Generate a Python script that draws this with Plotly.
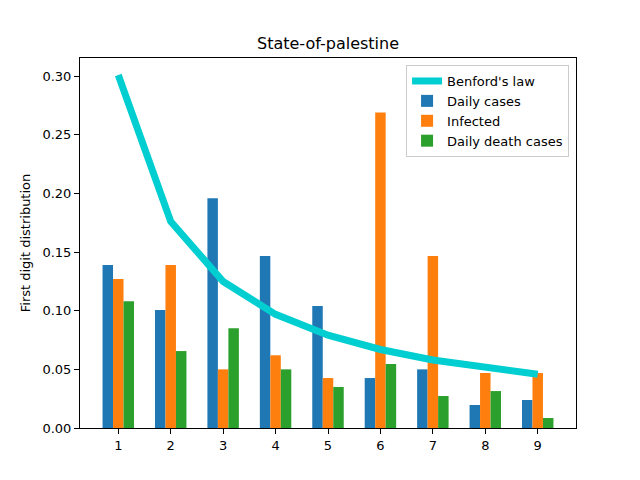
import numpy as np
import plotly.graph_objects as go

digits = [1, 2, 3, 4, 5, 6, 7, 8, 9]
benford = [float(np.log10(1 + 1 / d)) for d in digits]
daily_cases = [0.139, 0.1006, 0.196, 0.1466, 0.104, 0.0426, 0.050, 0.0196, 0.0239]
infected = [0.127, 0.139, 0.050, 0.062, 0.0426, 0.269, 0.1466, 0.0469, 0.0469]
daily_deaths = [0.108, 0.0656, 0.085, 0.050, 0.035, 0.0546, 0.0273, 0.0315, 0.0085]

font = "DejaVu Sans"
w = 0.2

fig = go.Figure()
fig.add_trace(go.Scatter(x=digits, y=benford, mode="lines", name="Benford's law",
                         line=dict(color="#00CED1", width=7)))
for vals, off, name, col in [(daily_cases, -w, "Daily cases", "#1f77b4"),
                             (infected, 0, "Infected", "#ff7f0e"),
                             (daily_deaths, w, "Daily death cases", "#2ca02c")]:
    fig.add_trace(go.Bar(x=[d + off for d in digits], y=vals, width=w, name=name,
                         marker=dict(color=col, line=dict(width=0))))

axis = dict(showline=True, linecolor="black", linewidth=1, mirror=True,
            ticks="outside", ticklen=5, tickcolor="black", showgrid=False,
            zeroline=False, tickfont=dict(family=font, size=13, color="black"))

# page body adds ~8px offset, so margins are shifted to compensate
fig.update_layout(
    width=640, height=480,
    margin=dict(l=72, r=72, t=50, b=60),
    plot_bgcolor="white", paper_bgcolor="white",
    barmode="overlay",
    title=dict(text="State-of-palestine", x=0.5, xanchor="center",
               y=1 - 35 / 480, yanchor="middle",
               font=dict(family=font, size=16, color="black")),
    xaxis=dict(axis, range=[0.27, 9.73], tickvals=digits),
    yaxis=dict(axis, range=[0, 0.3155], tickvals=[0, 0.05, 0.1, 0.15, 0.2, 0.25, 0.3],
               tickformat=".2f",
               title=dict(text="First digit distribution", standoff=8,
                          font=dict(family=font, size=13, color="black"))),
    legend=dict(x=0.986, xanchor="right", y=0.981, yanchor="top",
                bgcolor="rgba(255,255,255,0.8)", bordercolor="#cccccc", borderwidth=1,
                font=dict(family=font, size=13, color="black"),
                tracegroupgap=0, itemwidth=30),
    showlegend=True,
)

fig.write_html("out.html")
